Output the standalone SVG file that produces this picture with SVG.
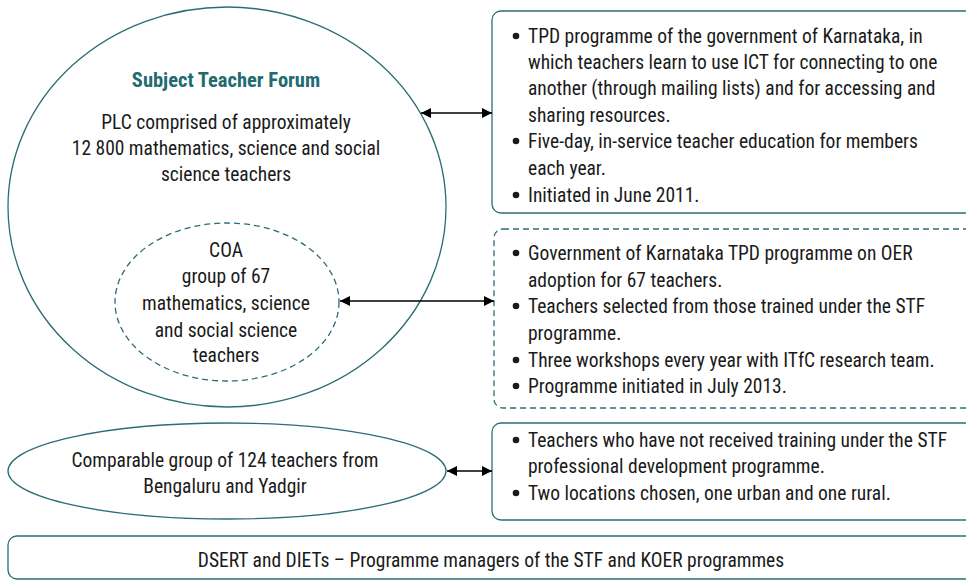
<svg xmlns="http://www.w3.org/2000/svg" width="966" height="580" viewBox="0 0 966 580">
<defs>
<style>
text{font-family:"Liberation Sans Narrow","Roboto Condensed","DejaVu Sans Condensed",sans-serif;font-stretch:condensed;font-size:19.5px;fill:#1a1a1a}
.c{text-anchor:middle}
.title{font-weight:bold;fill:#236b72;font-size:20.5px}
.shape{fill:none;stroke:#2b6d75;stroke-width:1.3}
.dash{stroke-dasharray:6 4}
.conn{stroke:#000;stroke-width:1.5;fill:none}
.bul{fill:#1a1a1a}
</style>
<marker id="ah" viewBox="0 0 10 10" refX="10" refY="5" markerWidth="10" markerHeight="10" markerUnits="userSpaceOnUse" orient="auto-start-reverse">
<path d="M0,0 L10,5 L0,10 Z" fill="#000"/>
</marker>
</defs>
<g id="stf">
<ellipse class="shape" cx="227" cy="207" rx="219" ry="200"/>
<text class="c title" x="226" y="87">Subject Teacher Forum</text>
<text class="c" x="226" y="129">PLC comprised of approximately</text>
<text class="c" x="226" y="155">12 800 mathematics, science and social</text>
<text class="c" x="226" y="181">science teachers</text>
</g>
<g id="coa">
<ellipse class="shape dash" cx="227" cy="302" rx="112" ry="79"/>
<text class="c" x="226" y="257">COA</text>
<text class="c" x="226" y="283">group of 67</text>
<text class="c" x="226" y="310">mathematics, science</text>
<text class="c" x="226" y="337">and social science</text>
<text class="c" x="226" y="362">teachers</text>
</g>
<g id="comparable">
<ellipse class="shape" cx="227" cy="471" rx="219" ry="48"/>
<text class="c" x="225" y="467">Comparable group of 124 teachers from</text>
<text class="c" x="225" y="493">Bengaluru and Yadgir</text>
</g>
<g id="box-stf">
<rect class="shape" x="492" y="11" width="490" height="202" rx="9"/>
<circle class="bul" cx="516" cy="36" r="3.3"/>
<circle class="bul" cx="516" cy="141" r="3.3"/>
<circle class="bul" cx="516" cy="195" r="3.3"/>
<text x="528" y="43">TPD programme of the government of Karnataka, in</text>
<text x="528" y="69">which teachers learn to use ICT for connecting to one</text>
<text x="528" y="95">another (through mailing lists) and for accessing and</text>
<text x="528" y="122">sharing resources.</text>
<text x="528" y="148">Five-day, in-service teacher education for members</text>
<text x="528" y="175">each year.</text>
<text x="528" y="202">Initiated in June 2011.</text>
</g>
<g id="box-coa">
<rect class="shape dash" x="494" y="229" width="490" height="179" rx="9"/>
<circle class="bul" cx="516" cy="253" r="3.3"/>
<circle class="bul" cx="516" cy="306" r="3.3"/>
<circle class="bul" cx="516" cy="360" r="3.3"/>
<circle class="bul" cx="516" cy="386" r="3.3"/>
<text x="528" y="260">Government of Karnataka TPD programme on OER</text>
<text x="528" y="287">adoption for 67 teachers.</text>
<text x="528" y="313">Teachers selected from those trained under the STF</text>
<text x="528" y="340">programme.</text>
<text x="528" y="367">Three workshops every year with ITfC research team.</text>
<text x="528" y="393">Programme initiated in July 2013.</text>
</g>
<g id="box-comparable">
<rect class="shape" x="492" y="423" width="490" height="97" rx="9"/>
<circle class="bul" cx="516" cy="440" r="3.3"/>
<circle class="bul" cx="516" cy="493" r="3.3"/>
<text x="528" y="447">Teachers who have not received training under the STF</text>
<text x="528" y="473">professional development programme.</text>
<text x="528" y="500">Two locations chosen, one urban and one rural.</text>
</g>
<g id="managers">
<rect class="shape" x="8" y="536" width="972" height="43" rx="9"/>
<text class="c" x="491" y="567">DSERT and DIETs – Programme managers of the STF and KOER programmes</text>
</g>
<g id="connectors">
<line class="conn" x1="421" y1="113" x2="492" y2="113" marker-start="url(#ah)" marker-end="url(#ah)"/>
<line class="conn" x1="340" y1="301" x2="494" y2="301" marker-start="url(#ah)" marker-end="url(#ah)"/>
<line class="conn" x1="447" y1="471" x2="492" y2="471" marker-start="url(#ah)" marker-end="url(#ah)"/>
</g>
</svg>
